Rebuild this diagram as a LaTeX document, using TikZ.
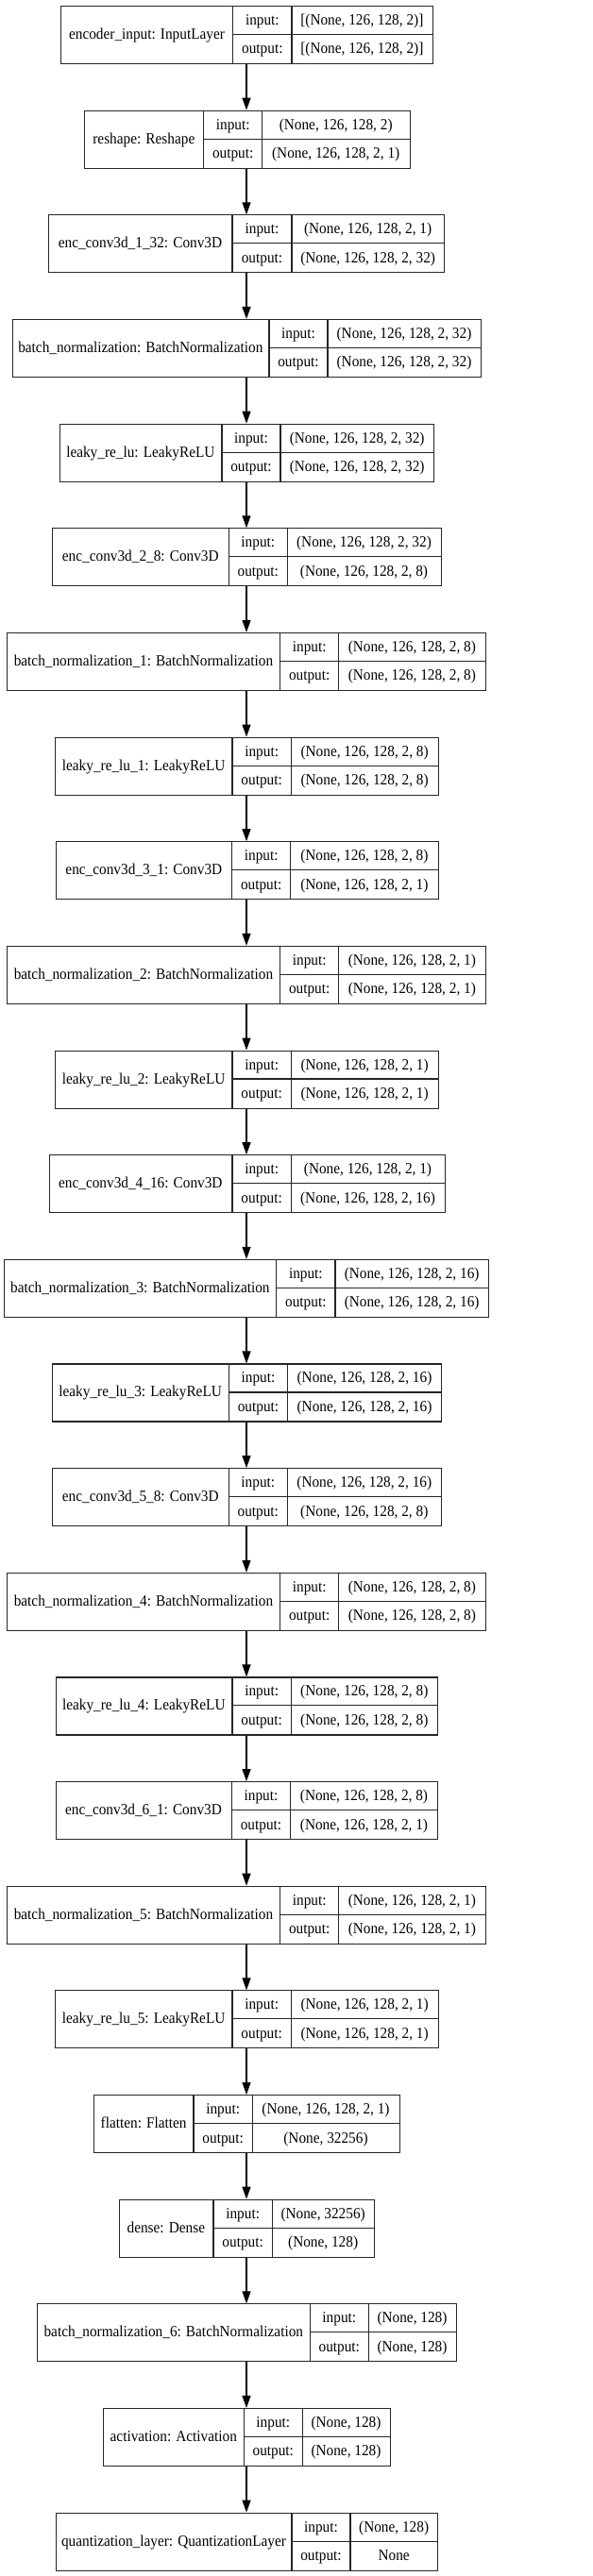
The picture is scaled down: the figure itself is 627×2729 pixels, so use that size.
\documentclass[tikz,border=0pt]{standalone}
\usepackage{fontspec}
\setmainfont{Liberation Serif}
\usetikzlibrary{arrows.meta}
\tikzset{
  layerbox/.style={draw=black!85, line width=1.1pt, rectangle, inner sep=0pt, anchor=north west, minimum height=61pt},
  cellline/.style={draw=black!85, line width=1.1pt},
  txt/.style={inner sep=0pt, anchor=base, font=\fontsize{15.3}{18}\selectfont},
  flow/.style={draw=black, line width=1.1pt, -{Triangle[length=13pt,width=9pt]}},
}
\newcommand\tallt[1]{\scalebox{1}[1.08]{#1}}
% id, top, left, div1, div2, right, name, input, output
\newcommand\layer[9]{%
  \node[layerbox, minimum width={(#6-#3)*1pt}] (#1) at (#3,#2) {};
  \draw[cellline] (#4,#2) -- (#4,{#2+61}) (#5,#2) -- (#5,{#2+61}) (#4,{#2+30.5}) -- (#6,{#2+30.5});
  \node[txt] (#1-name) at ({(#3+#4)/2},{#2+35.5}) {\tallt{#7}};
  \node[txt] (#1-ik) at ({(#4+#5)/2},{#2+20.5}) {\tallt{input:}};
  \node[txt] (#1-ok) at ({(#4+#5)/2},{#2+51}) {\tallt{output:}};
  \node[txt] (#1-iv) at ({(#5+#6)/2},{#2+20.5}) {\tallt{#8}};
  \node[txt] (#1-ov) at ({(#5+#6)/2},{#2+51}) {\tallt{#9}};
}
\begin{document}
\begin{tikzpicture}[x=1pt, y=-1pt]
\fill[white] (0,0) rectangle (627,2729);
\useasboundingbox (0,0) rectangle (627,2729);
\coordinate (ax) at (261,0);
\layer{n1}{6.0}{64.3}{246.7}{309}{457.7}{encoder\_input: InputLayer}{[(None, 126, 128, 2)]}{[(None, 126, 128, 2)]}
\layer{n2}{116.65}{89}{215.7}{277.7}{433.7}{reshape: Reshape}{(None, 126, 128, 2)}{(None, 126, 128, 2, 1)}
\layer{n3}{227.3}{51}{246}{309}{470.3}{enc\_conv3d\_1\_32: Conv3D}{(None, 126, 128, 2, 1)}{(None, 126, 128, 2, 32)}
\layer{n4}{337.95}{12.7}{285}{347}{509}{batch\_normalization: BatchNormalization}{(None, 126, 128, 2, 32)}{(None, 126, 128, 2, 32)}
\layer{n5}{448.6}{62.7}{235}{297}{459.3}{leaky\_re\_lu: LeakyReLU}{(None, 126, 128, 2, 32)}{(None, 126, 128, 2, 32)}
\layer{n6}{559.25}{55.3}{242.3}{304.3}{466.7}{enc\_conv3d\_2\_8: Conv3D}{(None, 126, 128, 2, 32)}{(None, 126, 128, 2, 8)}
\layer{n7}{669.9}{7.3}{296.7}{358.7}{514}{batch\_normalization\_1: BatchNormalization}{(None, 126, 128, 2, 8)}{(None, 126, 128, 2, 8)}
\layer{n8}{780.55}{58.3}{246}{308.3}{464}{leaky\_re\_lu\_1: LeakyReLU}{(None, 126, 128, 2, 8)}{(None, 126, 128, 2, 8)}
\layer{n9}{891.2}{59}{245.7}{307.7}{464}{enc\_conv3d\_3\_1: Conv3D}{(None, 126, 128, 2, 8)}{(None, 126, 128, 2, 1)}
\layer{n10}{1001.85}{7.3}{296.7}{358.7}{514}{batch\_normalization\_2: BatchNormalization}{(None, 126, 128, 2, 1)}{(None, 126, 128, 2, 1)}
\layer{n11}{1112.5}{58.3}{246}{308.3}{464}{leaky\_re\_lu\_2: LeakyReLU}{(None, 126, 128, 2, 1)}{(None, 126, 128, 2, 1)}
\layer{n12}{1223.15}{51.7}{246}{308.3}{470.7}{enc\_conv3d\_4\_16: Conv3D}{(None, 126, 128, 2, 1)}{(None, 126, 128, 2, 16)}
\layer{n13}{1333.8}{4}{292.7}{355}{517.3}{batch\_normalization\_3: BatchNormalization}{(None, 126, 128, 2, 16)}{(None, 126, 128, 2, 16)}
\layer{n14}{1444.45}{55}{242.3}{304.7}{467.3}{leaky\_re\_lu\_3: LeakyReLU}{(None, 126, 128, 2, 16)}{(None, 126, 128, 2, 16)}
\layer{n15}{1555.1}{55.3}{242.3}{304.3}{467.3}{enc\_conv3d\_5\_8: Conv3D}{(None, 126, 128, 2, 16)}{(None, 126, 128, 2, 8)}
\layer{n16}{1665.75}{7.3}{296.7}{358.7}{514}{batch\_normalization\_4: BatchNormalization}{(None, 126, 128, 2, 8)}{(None, 126, 128, 2, 8)}
\layer{n17}{1776.4}{58.7}{246}{308.3}{463.3}{leaky\_re\_lu\_4: LeakyReLU}{(None, 126, 128, 2, 8)}{(None, 126, 128, 2, 8)}
\layer{n18}{1887.05}{58.7}{245.3}{307.7}{463.3}{enc\_conv3d\_6\_1: Conv3D}{(None, 126, 128, 2, 8)}{(None, 126, 128, 2, 1)}
\layer{n19}{1997.7}{7.3}{296.7}{358.7}{514}{batch\_normalization\_5: BatchNormalization}{(None, 126, 128, 2, 1)}{(None, 126, 128, 2, 1)}
\layer{n20}{2108.35}{58.3}{246}{308.3}{464}{leaky\_re\_lu\_5: LeakyReLU}{(None, 126, 128, 2, 1)}{(None, 126, 128, 2, 1)}
\layer{n21}{2219.0}{99.3}{205}{267.3}{422.7}{flatten: Flatten}{(None, 126, 128, 2, 1)}{(None, 32256)}
\layer{n22}{2329.65}{125.7}{226}{288.3}{396}{dense: Dense}{(None, 32256)}{(None, 128)}
\layer{n23}{2440.3}{39.3}{328.3}{390.3}{482.7}{batch\_normalization\_6: BatchNormalization}{(None, 128)}{(None, 128)}
\layer{n24}{2550.95}{109.3}{258.3}{320.3}{412.7}{activation: Activation}{(None, 128)}{(None, 128)}
\layer{n25}{2661.6}{59}{309}{371}{463.3}{quantization\_layer: QuantizationLayer}{(None, 128)}{None}
\foreach \a/\b in {n1/n2,n2/n3,n3/n4,n4/n5,n5/n6,n6/n7,n7/n8,n8/n9,n9/n10,n10/n11,n11/n12,n12/n13,n13/n14,n14/n15,n15/n16,n16/n17,n17/n18,n18/n19,n19/n20,n20/n21,n21/n22,n22/n23,n23/n24,n24/n25}
  \draw[flow] (\a.south -| ax) -- (\b.north -| ax);
\end{tikzpicture}
\end{document}
